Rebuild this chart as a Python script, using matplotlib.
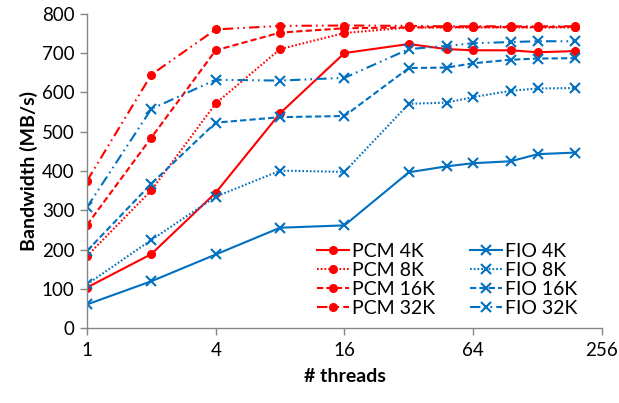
"""Bandwidth vs thread count for PCM and FIO at several block sizes."""

import matplotlib
matplotlib.use("Agg")
import matplotlib.pyplot as plt
from matplotlib.ticker import FixedLocator, FixedFormatter, NullLocator

threads = [1, 2, 4, 8, 16, 32, 48, 64, 96, 128, 192]

pcm_4k = [104, 189, 345, 547, 700, 723, 710, 707, 707, 702, 705]
pcm_8k = [184, 351, 572, 710, 751, 765, 765, 765, 765, 765, 765]
pcm_16k = [263, 485, 707, 752, 763, 765, 766, 766, 766, 766, 767]
pcm_32k = [375, 645, 760, 769, 770, 769, 768, 768, 768, 768, 768]

fio_4k = [61, 120, 188, 256, 262, 397, 412, 420, 425, 443, 447]
fio_8k = [112, 225, 335, 401, 398, 571, 574, 588, 604, 610, 611]
fio_16k = [197, 368, 523, 537, 540, 662, 663, 674, 683, 686, 687]
fio_32k = [308, 558, 632, 630, 637, 710, 718, 725, 728, 730, 730]

x_ticks = [1, 4, 16, 64, 256]
x_tick_labels = ["1", "4", "16", "64", "256"]
y_ticks = list(range(0, 801, 100))

RED = "#ff0000"
BLUE = "#0070c0"
GRAY = "#868686"

styles = {
    "4K": "-",
    "8K": (0, (0.8, 1.0)),
    "16K": (0, (3.0, 1.5)),
    "32K": (0, (5.0, 2.0, 0.8, 2.0, 0.8, 2.0)),
}

plt.rcParams["font.family"] = ["Lato", "DejaVu Sans"]

fig = plt.figure(figsize=(6.19, 4.03), dpi=100)
ax = fig.add_axes([0.1405, 0.185, 0.832, 0.781])

pcm = [("4K", pcm_4k), ("8K", pcm_8k), ("16K", pcm_16k), ("32K", pcm_32k)]
fio = [("4K", fio_4k), ("8K", fio_8k), ("16K", fio_16k), ("32K", fio_32k)]

for size, vals in pcm:
    ax.plot(threads, vals, color=RED, linestyle=styles[size], linewidth=1.5,
            marker="o", markersize=5.5, label=f"PCM {size}")
for size, vals in fio:
    ax.plot(threads, vals, color=BLUE, linestyle=styles[size], linewidth=1.5,
            marker="x", markersize=7, markeredgewidth=1.5, label=f"FIO {size}")

ax.set_xscale("log", base=2)
ax.set_xlim(1, 256)
ax.set_ylim(0, 800)
ax.xaxis.set_major_locator(FixedLocator(x_ticks))
ax.xaxis.set_major_formatter(FixedFormatter(x_tick_labels))
ax.xaxis.set_minor_locator(NullLocator())
ax.set_yticks(y_ticks)

for side in ("top", "right"):
    ax.spines[side].set_visible(False)
for side in ("left", "bottom"):
    ax.spines[side].set_color(GRAY)
    ax.spines[side].set_linewidth(1.0)
ax.tick_params(axis="both", colors=GRAY, labelcolor="black", labelsize=13.5,
               length=5, width=1.0)
ax.tick_params(axis="x", pad=5)
ax.tick_params(axis="y", pad=4)

ax.set_xlabel("# threads", fontsize=14, fontweight="bold", labelpad=6)
ax.set_ylabel("Bandwidth (MB/s)", fontsize=14, fontweight="bold", labelpad=3)

handles, labels = ax.get_legend_handles_labels()
ax.legend(handles, labels, ncol=2, loc="lower right", bbox_to_anchor=(0.975, 0.0),
          frameon=False, fontsize=14, handlelength=1.65, handletextpad=0.15,
          labelspacing=0.1, columnspacing=1.8, borderaxespad=0.2)

fig.savefig("out.png", dpi=100)
